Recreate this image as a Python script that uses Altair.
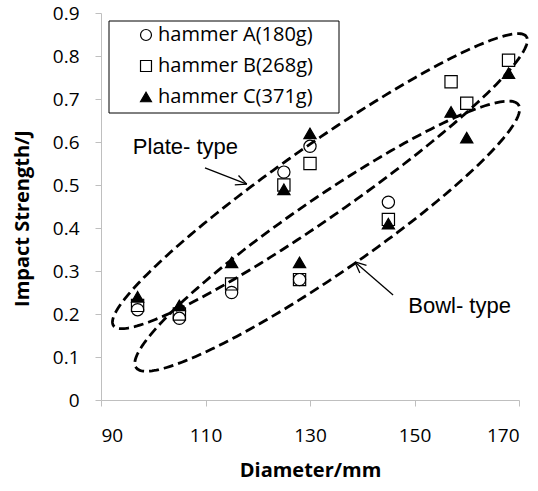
import altair as alt
import numpy as np
import pandas as pd

# ---------------- data ----------------
series = ["hammer A(180g)", "hammer B(268g)", "hammer C(371g)"]
diam_a = [97, 105, 115, 125, 128, 130, 145]
imp_a = [0.21, 0.19, 0.25, 0.53, 0.28, 0.59, 0.46]
diam_b = [97, 105, 115, 125, 128, 130, 145, 157, 160, 168]
imp_b = [0.22, 0.20, 0.27, 0.50, 0.28, 0.55, 0.42, 0.74, 0.69, 0.79]
diam_c = [97, 105, 115, 125, 128, 130, 145, 157, 160, 168]
imp_c = [0.24, 0.22, 0.32, 0.49, 0.32, 0.62, 0.41, 0.67, 0.61, 0.76]
x_ticks = [90, 110, 130, 150, 170]
y_ticks = [0, 0.1, 0.2, 0.3, 0.4, 0.5, 0.6, 0.7, 0.8, 0.9]
notes = ["Plate- type", "Bowl- type"]

# ---------------- layout ----------------
W, H = 418, 387
X0, X1 = 90, 170
Y0, Y1 = 0, 0.9
SX = W / (X1 - X0)   # px per mm
SY = H / (Y1 - Y0)   # px per J
FONT = "Open Sans"

rows = []
for name, ds, vs in zip(series, [diam_a, diam_b, diam_c], [imp_a, imp_b, imp_c]):
    for d, v in zip(ds, vs):
        rows.append({"d": d, "v": v, "s": name})
df = pd.DataFrame(rows)
df["o"] = range(len(df))

xscale = alt.Scale(domain=[X0, X1], nice=False, zero=False)
yscale = alt.Scale(domain=[Y0, Y1], nice=False, zero=False)

legend = alt.Legend(
    orient="none", legendX=8, legendY=12, title=None,
    labelFont=FONT, labelFontSize=20, labelColor="black",
    symbolSize=120, symbolStrokeWidth=1.2, symbolStrokeColor="black",
    rowPadding=11, padding=0, symbolOffset=27, labelOffset=2,
)

points = alt.Chart(df).mark_point(
    filled=True, size=150, strokeWidth=1.2, opacity=1
).encode(
    x=alt.X("d:Q", scale=xscale, axis=alt.Axis(
        values=x_ticks, title="Diameter/mm", labelPadding=20, titlePadding=15)),
    y=alt.Y("v:Q", scale=yscale, axis=alt.Axis(
        values=y_ticks, format=".1~f", title="Impact Strength/J", labelPadding=16,
        titleX=-79, titleY=205, titleAlign="center", titleBaseline="middle")),
    shape=alt.Shape("s:N", scale=alt.Scale(domain=series, range=["circle", "square", "triangle-up"]), legend=legend),
    fill=alt.Fill("s:N", scale=alt.Scale(domain=series, range=["transparent", "transparent", "black"]), legend=legend),
    stroke=alt.Stroke("s:N", scale=alt.Scale(domain=series, range=["black", "black", "black"]), legend=legend),
    order=alt.Order("o:Q"),
)

# legend frame
frame = alt.Chart(pd.DataFrame({"k": [0]})).mark_rect(
    fill="white", stroke="black", strokeWidth=1
).encode(x=alt.value(8), x2=alt.value(238), y=alt.value(8), y2=alt.value(100))


# ---------------- annotations (dashed ellipses, arrows, labels) ----------------
def ellipse(name, cx, cy, a_px, b_px, ang_deg, n=240):
    t = np.linspace(0, 2 * np.pi, n + 1)
    th = np.radians(ang_deg)
    dx = a_px * np.cos(t) * np.cos(th) - b_px * np.sin(t) * np.sin(th)
    dy = a_px * np.cos(t) * np.sin(th) + b_px * np.sin(t) * np.cos(th)
    return pd.DataFrame({"x": cx + dx / SX, "y": cy + dy / SY, "i": np.arange(n + 1), "g": name})


ell = pd.concat([
    ellipse("plate", 131.9, 0.509, 252, 36, 35.0),
    ellipse("bowl", 133.3, 0.381, 232, 38, 34.5),
])
ellipses = alt.Chart(ell).mark_line(
    color="black", strokeWidth=2.8, strokeDash=[10, 5], clip=False
).encode(
    x=alt.X("x:Q", scale=xscale), y=alt.Y("y:Q", scale=yscale),
    detail="g:N", order="i:Q",
)


def arrow(x0, y0, x1, y1, head=12, spread=25):
    segs = [(x0, y0, x1, y1)]
    ang = np.arctan2((y0 - y1) * SY, (x0 - x1) * SX)
    for s in (-1, 1):
        a = ang + s * np.radians(spread)
        segs.append((x1, y1, x1 + head * np.cos(a) / SX, y1 + head * np.sin(a) / SY))
    return segs


segs = arrow(109.9, 0.540, 117.9, 0.502) + arrow(145.9, 0.244, 138.6, 0.321)
arr = pd.DataFrame(segs, columns=["x", "y", "x2", "y2"])
arrows = alt.Chart(arr).mark_rule(color="black", strokeWidth=1.3).encode(
    x=alt.X("x:Q", scale=xscale), y=alt.Y("y:Q", scale=yscale), x2="x2:Q", y2="y2:Q"
)

lab = pd.DataFrame({"x": [96.1, 148.8], "y": [0.572, 0.202], "t": notes})
labels = alt.Chart(lab).mark_text(
    align="left", baseline="alphabetic", font="Liberation Sans", fontSize=22, color="black"
).encode(x=alt.X("x:Q", scale=xscale), y=alt.Y("y:Q", scale=yscale), text="t:N")

chart = alt.layer(frame, points, ellipses, arrows, labels).properties(
    width=W, height=H, background="white",
    autosize=alt.AutoSizeParams(type="none"),
    padding={"left": 101, "top": 13, "right": 19, "bottom": 91},
).configure_view(stroke=None).configure_axis(
    grid=False, domainColor="#bfbfbf", tickColor="#bfbfbf", tickSize=6,
    labelFont=FONT, labelFontSize=19, labelColor="black",
    titleFont=FONT, titleFontSize=20, titleFontWeight="bold", titleColor="black",
)

chart.save("out.html", embed_options={"renderer": "svg", "actions": False})
